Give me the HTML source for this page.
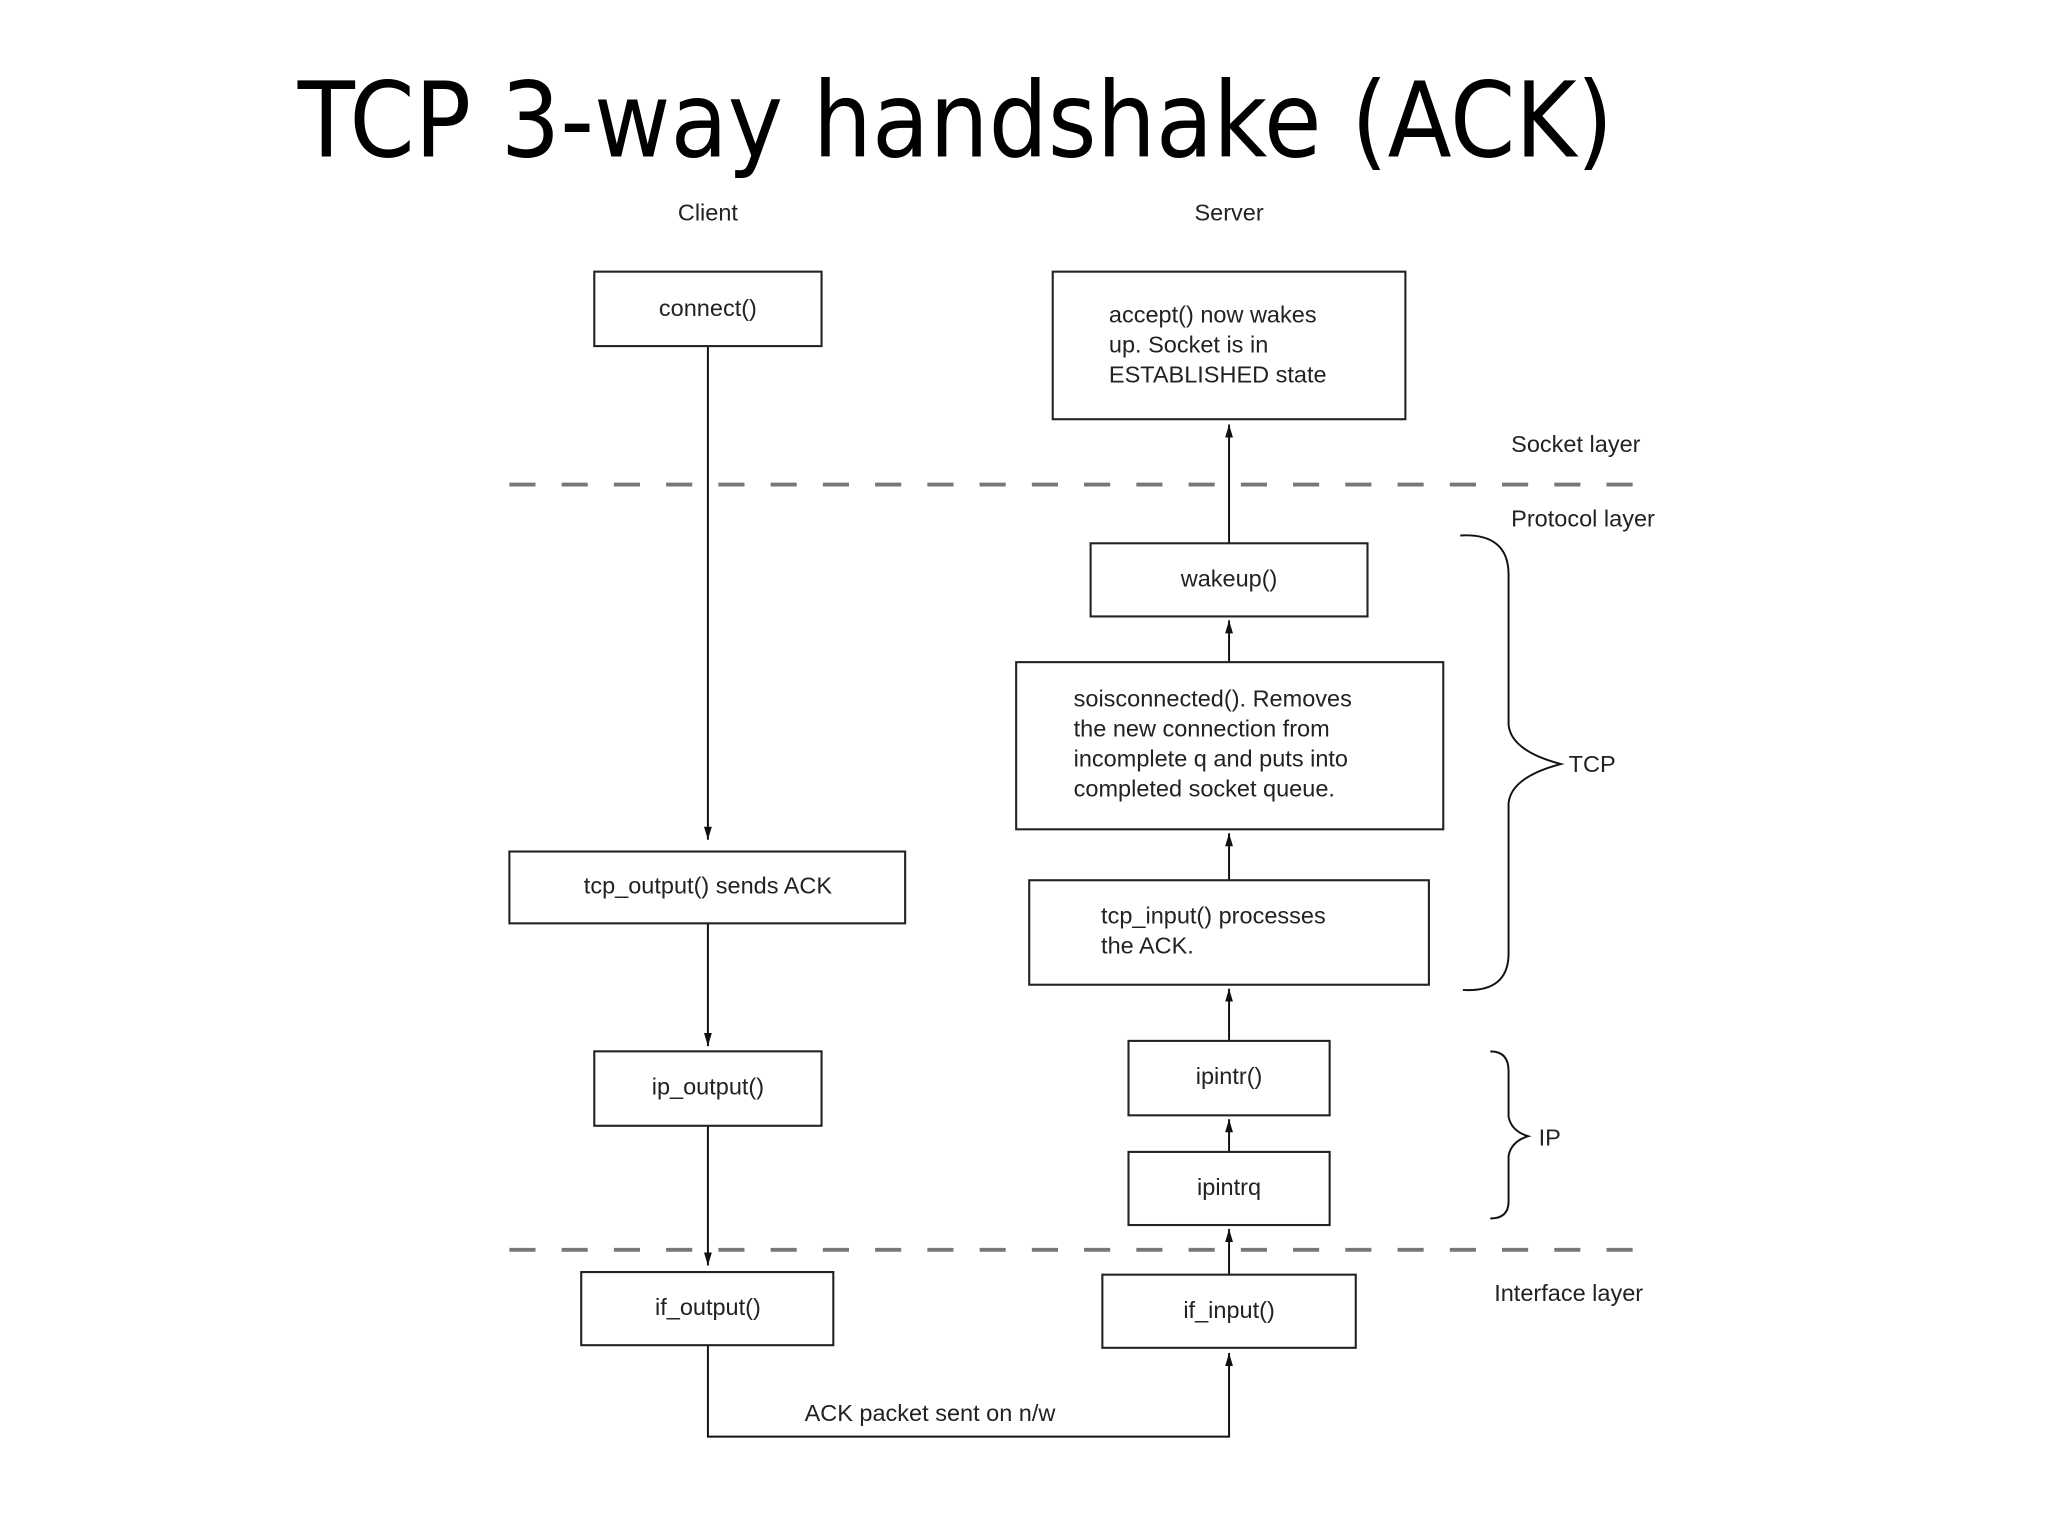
<!DOCTYPE html>
<html><head><meta charset="utf-8"><style>
html,body{margin:0;padding:0;background:#fff;}
svg{display:block;}
text{font-family:"Liberation Sans",Arial,sans-serif;font-size:18px;fill:#222;}
.t{font-family:"DejaVu Sans",sans-serif;font-size:80px;fill:#000;}
.b{fill:#fff;stroke:#222;stroke-width:1.6;}
.l{stroke:#111;stroke-width:1.5;fill:none;}
.d{stroke:#777;stroke-width:3;stroke-dasharray:20 20;fill:none;}
</style></head><body>
<svg width="2048" height="1539" viewBox="0 0 1568 1178.4" preserveAspectRatio="none" xmlns="http://www.w3.org/2000/svg">
<defs><marker id="a" markerWidth="10" markerHeight="12" refX="10" refY="4" orient="auto" markerUnits="userSpaceOnUse" viewBox="0 0 10 8"><path d="M0,1 L10,4 L0,7 z" fill="#111"/></marker></defs>
<text class="t" x="228" y="120" textLength="1007" lengthAdjust="spacingAndGlyphs">TCP 3-way handshake (ACK)</text>
<text x="542" y="169" text-anchor="middle">Client</text>
<text x="941" y="169" text-anchor="middle">Server</text>
<line class="d" x1="390" y1="371" x2="1255" y2="371"/>
<line class="d" x1="390" y1="957" x2="1255" y2="957"/>
<text x="1157" y="346">Socket layer</text>
<text x="1157" y="403">Protocol layer</text>
<text x="1144" y="996">Interface layer</text>
<!-- connectors -->
<line class="l" x1="542" y1="265" x2="542" y2="643" marker-end="url(#a)"/>
<line class="l" x1="542" y1="707" x2="542" y2="801" marker-end="url(#a)"/>
<line class="l" x1="542" y1="862" x2="542" y2="969" marker-end="url(#a)"/>
<polyline class="l" points="542,1030 542,1100 941,1100 941,1036" marker-end="url(#a)"/>
<line class="l" x1="941" y1="976" x2="941" y2="941" marker-end="url(#a)"/>
<line class="l" x1="941" y1="882" x2="941" y2="857" marker-end="url(#a)"/>
<line class="l" x1="941" y1="797" x2="941" y2="757" marker-end="url(#a)"/>
<line class="l" x1="941" y1="674" x2="941" y2="638" marker-end="url(#a)"/>
<line class="l" x1="941" y1="507" x2="941" y2="475" marker-end="url(#a)"/>
<line class="l" x1="941" y1="416" x2="941" y2="325" marker-end="url(#a)"/>
<!-- boxes -->
<rect class="b" x="455" y="208" width="174" height="57"/>
<text x="542" y="242" text-anchor="middle">connect()</text>
<rect class="b" x="806" y="208" width="270" height="113"/>
<text x="849" y="247">accept() now wakes</text>
<text x="849" y="270">up.  Socket is in</text>
<text x="849" y="293">ESTABLISHED state</text>
<rect class="b" x="835" y="416" width="212" height="56"/>
<text x="941" y="449" text-anchor="middle">wakeup()</text>
<rect class="b" x="778" y="507" width="327" height="128"/>
<text x="822" y="541">soisconnected(). Removes</text>
<text x="822" y="564">the new connection from</text>
<text x="822" y="587">incomplete q and puts into</text>
<text x="822" y="610">completed socket queue.</text>
<rect class="b" x="788" y="674" width="306" height="80"/>
<text x="843" y="707">tcp_input() processes</text>
<text x="843" y="730">the ACK.</text>
<rect class="b" x="390" y="652" width="303" height="55"/>
<text x="542" y="684" text-anchor="middle">tcp_output() sends ACK</text>
<rect class="b" x="455" y="805" width="174" height="57"/>
<text x="542" y="838" text-anchor="middle">ip_output()</text>
<rect class="b" x="864" y="797" width="154" height="57"/>
<text x="941" y="830" text-anchor="middle">ipintr()</text>
<rect class="b" x="864" y="882" width="154" height="56"/>
<text x="941" y="915" text-anchor="middle">ipintrq</text>
<rect class="b" x="445" y="974" width="193" height="56"/>
<text x="542" y="1007" text-anchor="middle">if_output()</text>
<rect class="b" x="844" y="976" width="194" height="56"/>
<text x="941" y="1009" text-anchor="middle">if_input()</text>
<text x="616" y="1088">ACK packet sent on n/w</text>
<!-- braces -->
<path class="l" d="M1118,410 Q1155,408 1155,440 L1155,555 Q1157,575 1195,585 Q1157,595 1155,615 L1155,730 Q1155,760 1120,758"/>
<text x="1201" y="591">TCP</text>
<path class="l" d="M1141,805 Q1155,805 1155,820 L1155,855 Q1157,866 1170,870 Q1157,874 1155,885 L1155,920 Q1155,933 1141,933"/>
<text x="1178" y="877">IP</text>
</svg>
</body></html>
